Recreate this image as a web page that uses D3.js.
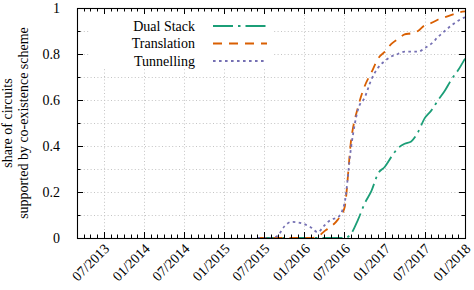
<!DOCTYPE html>
<html>
<head>
<meta charset="utf-8">
<script src="https://cdn.jsdelivr.net/npm/d3@7"></script>
<style>
  html, body { margin: 0; padding: 0; background: #fff; }
  svg { display: block; }
</style>
</head>
<body>
<svg id="chart" width="474" height="290"></svg>
<script>
// ---- data (monthly) ----
const months = ["2015-06","2015-07","2015-08","2015-09","2015-10","2015-11","2015-12",
  "2016-01","2016-02","2016-03","2016-04","2016-05","2016-06","2016-07","2016-08","2016-09",
  "2016-10","2016-11","2016-12","2017-01","2017-02","2017-03","2017-04","2017-05","2017-06",
  "2017-07","2017-08","2017-09","2017-10","2017-11","2017-12","2018-01"];
const dualStack = [0,0,0,0,0,0,0, 0,0,0,0,0,0,0.0,0.02,0.08, 0.15,0.205,0.28,0.31,0.355,0.39,0.41,0.42,0.46, 0.52,0.555,0.60,0.64,0.69,0.73,0.78];
const translation = [0,0,0,0,0,0,0, 0,0,0.005,0.03,0.05,0.08,0.13,0.43,0.57, 0.66,0.72,0.78,0.81,0.845,0.865,0.885,0.89,0.90, 0.925,0.935,0.95,0.96,0.97,0.98,0.985];
const tunnelling = [0,0,0,0.01,0.05,0.07,0.068, 0.06,0.045,0.025,0.055,0.08,0.09,0.15,0.40,0.56, 0.61,0.69,0.74,0.77,0.79,0.80,0.81,0.81,0.81, 0.825,0.845,0.875,0.90,0.925,0.945,0.96];
const seriesNames = ["Dual Stack", "Translation", "Tunnelling"];
const xTickLabels = ["07/2013","01/2014","07/2014","01/2015","07/2015","01/2016","07/2016","01/2017","07/2017","01/2018"];
const yTicks = [0, 0.2, 0.4, 0.6, 0.8, 1];
const yLabelLines = ["share of circuits", "supported by co-existence scheme"];
const xDomain = ["2013-03", "2018-01"];

// ---- layout ----
const FONT = "'Liberation Serif', 'Times New Roman', 'DejaVu Serif', serif";
const svg = d3.select("#chart").attr("font-family", FONT);
const L = 77, R = 465, T = 8, B = 238;
const parse = d3.timeParse("%Y-%m");
const parseLbl = d3.timeParse("%m/%Y");
const x = d3.scaleTime().domain(xDomain.map(parse)).range([L, R]);
const y = d3.scaleLinear().domain([0, 1]).range([B, T]);

const colors = ["#1b9e77", "#d95f02", "#7570b3"];
const dashes = ["20,5,2.5,5", "9,7", "2.6,3.4"];
const data = [dualStack, translation, tunnelling];

// grid
const gridX = xTickLabels.map(parseLbl).filter(d => x(d) < R - 1);
const gridY = d3.range(1, 10).map(i => i / 10);
const grid = svg.append("g").attr("stroke", "#c4c4c4").attr("stroke-width", 1).attr("stroke-dasharray", "1,2.4");
grid.selectAll("line.gx").data(gridX).join("line")
  .attr("x1", d => Math.round(x(d)) + 0.5).attr("x2", d => Math.round(x(d)) + 0.5)
  .attr("y1", T).attr("y2", B);
grid.selectAll("line.gy").data(gridY).join("line")
  .attr("y1", d => Math.round(y(d)) + 0.5).attr("y2", d => Math.round(y(d)) + 0.5)
  .attr("x1", L).attr("x2", R);

// series
const line = d3.line().curve(d3.curveMonotoneX);
const plot = svg.append("g");
data.forEach((vals, i) => {
  plot.append("path")
    .attr("d", line(months.map((m, j) => [x(parse(m)), y(vals[j])])))
    .attr("fill", "none").attr("stroke", colors[i]).attr("stroke-width", 1.8)
    .attr("stroke-dasharray", dashes[i]);
});

// legend
const lg = svg.append("g");
lg.append("rect").attr("x", 90).attr("y", 12).attr("width", 184).attr("height", 57).attr("fill", "#fff");
seriesNames.forEach((name, i) => {
  const cy = 26 + i * 17.5;
  lg.append("text").attr("x", 195).attr("y", cy).attr("dy", "0.35em")
    .attr("text-anchor", "end").attr("font-size", 14).attr("font-family", FONT).text(name);
  lg.append("line").attr("x1", 213).attr("x2", 267).attr("y1", cy).attr("y2", cy)
    .attr("stroke", colors[i]).attr("stroke-width", 1.8).attr("stroke-dasharray", dashes[i]);
});

// axes box + ticks (inward, all four sides)
const ax = svg.append("g").attr("stroke", "#000");
const xMajor = xTickLabels.map(parseLbl);
const xMinor = d3.timeMonth.range(parse(xDomain[0]), d3.timeMonth.offset(parse(xDomain[1]), 1));
const yMinor = d3.range(0, 11).map(i => i / 10);
const isMajorX = d => xMajor.some(m => +m === +d);
xMinor.forEach(d => {
  const len = isMajorX(d) ? 6 : 3.5;
  const px = Math.round(x(d)) + 0.5;
  ax.append("line").attr("x1", px).attr("x2", px).attr("y1", B).attr("y2", B - len);
  ax.append("line").attr("x1", px).attr("x2", px).attr("y1", T).attr("y2", T + len);
});
yMinor.forEach(v => {
  const len = Math.round(v * 10) % 2 === 0 ? 6 : 3.5;
  const py = Math.round(y(v)) + 0.5;
  ax.append("line").attr("y1", py).attr("y2", py).attr("x1", L).attr("x2", L + len);
  ax.append("line").attr("y1", py).attr("y2", py).attr("x1", R).attr("x2", R - len);
});
ax.append("rect").attr("x", L + 0.5).attr("y", T + 0.5).attr("width", R - L).attr("height", B - T)
  .attr("fill", "none").attr("stroke-width", 1.1);

// y tick labels
svg.append("g").selectAll("text").data(yTicks).join("text")
  .attr("x", 60).attr("y", d => y(d)).attr("dy", "0.35em")
  .attr("text-anchor", "end").attr("font-size", 14).attr("font-family", FONT)
  .text(d => d === 0 || d === 1 ? String(d) : d.toFixed(1));

// x tick labels (rotated 45°)
svg.append("g").selectAll("text").data(xTickLabels).join("text")
  .attr("transform", d => `translate(${x(parseLbl(d)) + 3},${B + 8}) rotate(-45)`)
  .attr("text-anchor", "end").attr("dy", "0.35em").attr("font-size", 14).attr("font-family", FONT)
  .text(d => d);

// y axis label (two lines)
const yl = svg.append("text").attr("font-size", 14).attr("text-anchor", "middle").attr("font-family", FONT)
  .attr("transform", `translate(0,${(T + B) / 2}) rotate(-90)`);
yLabelLines.forEach((t, i) => {
  yl.append("tspan").attr("x", 0).attr("y", 11.5 + i * 16.5).text(t);
});
</script>
</body>
</html>
